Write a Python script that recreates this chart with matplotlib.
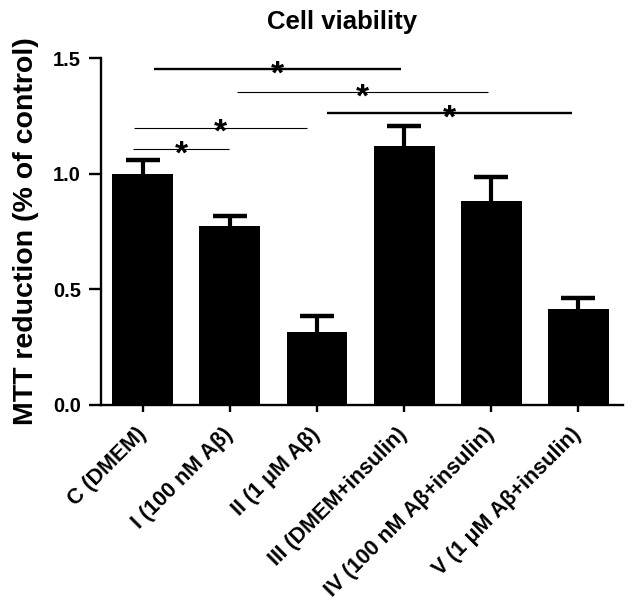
import matplotlib
matplotlib.use("Agg")
import matplotlib.pyplot as plt

plt.rcParams.update({"font.family": ["Liberation Sans", "DejaVu Sans"],
                     "font.weight": "bold"})

# data
groups = ["C (DMEM)", "I (100 nM Aβ)", "II (1 μM Aβ)", "III (DMEM+insulin)",
          "IV (100 nM Aβ+insulin)", "V (1 μM Aβ+insulin)"]
means = [1.00, 0.775, 0.313, 1.12, 0.881, 0.414]
sems = [0.058, 0.040, 0.070, 0.086, 0.106, 0.050]

# significance brackets: (from, to), height
pairs = [(0, 3), (1, 4), (2, 5), (0, 2), (0, 1)]
levels = [1.451, 1.352, 1.261, 1.198, 1.105]
# small horizontal trims on each end, in bar units
trim_lo = [0.13, 0.08, 0.11, -0.10, -0.11]
trim_hi = [-0.03, -0.03, -0.07, -0.11, -0.01]
thick = [True, False, True, False, False]

fig = plt.figure(figsize=(6.32, 6.07), dpi=100)
ax = fig.add_axes([0.160, 0.333, 0.825, 0.5714])

x = range(len(groups))
ax.bar(x, means, width=0.7, color="black", zorder=2)
eb = ax.errorbar(x, means, yerr=[[0] * len(sems), sems], fmt="none",
                 ecolor="black", elinewidth=3.0, capsize=12, capthick=3.2,
                 zorder=1)
eb[1][0].set_visible(False)   # no cap at the bar top

for (a, b), y, lo, hi, tk in zip(pairs, levels, trim_lo, trim_hi, thick):
    x0, x1 = a + lo, b + hi
    ax.plot([x0, x1], [y, y], color="black", lw=1.7 if tk else 0.8,
            solid_capstyle="butt")
    ax.annotate("*", xy=((x0 + x1) / 2, y), xytext=(0, -10.2),
                textcoords="offset points", ha="center", va="baseline",
                fontsize=24, fontweight="bold")

ax.set_xlim(-0.48, 5.51)
ax.set_ylim(0, 1.5)
ax.set_yticks([0.0, 0.5, 1.0, 1.5])
ax.set_yticklabels(["0.0", "0.5", "1.0", "1.5"])
ax.set_xticks(list(x))
ax.set_xticklabels(groups, rotation=45, ha="right", va="center",
                   rotation_mode="anchor")

for s in ("top", "right"):
    ax.spines[s].set_visible(False)
for s in ("left", "bottom"):
    ax.spines[s].set_linewidth(1.7)
ax.tick_params(axis="y", direction="out", length=8.6, width=1.7,
               labelsize=14.5, pad=6)
ax.tick_params(axis="x", direction="out", length=5, width=1.7,
               labelsize=15.5, pad=14)

ax.set_ylabel("MTT reduction (% of control)", fontsize=20.5, fontweight="bold",
              labelpad=10)
fig.text(0.541, 0.952, "Cell viability", ha="center", va="baseline",
         fontsize=18.5, fontweight="bold")

fig.savefig("out.png", dpi=100, facecolor="white")
